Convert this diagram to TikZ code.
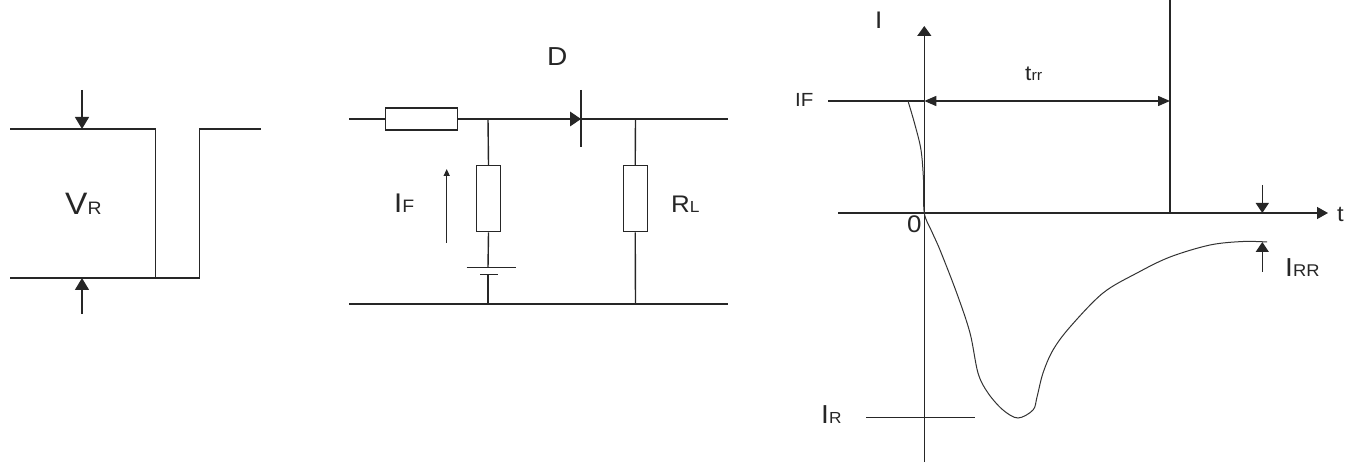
\documentclass[tikz,border=0pt]{standalone}
\usepackage{fontspec}
\setmainfont{Liberation Sans}[FakeStretch=1.08]
\usetikzlibrary{arrows.meta}
\newcommand{\fsz}[1]{\fontsize{#1bp}{#1bp}\selectfont}
\tikzset{
  wire/.style={line width=1.4bp, draw=black!85},
  res/.style={draw=black!85, line width=1.4bp, rectangle, inner sep=0pt, fill=white},
  bigarr/.style={wire, -{Triangle[length=12bp,width=14bp]}},
  midarr/.style={wire, -{Triangle[length=11bp,width=12bp]}},
  smallarr/.style={wire, -{Triangle[length=7bp,width=6bp]}},
  lbl/.style={inner sep=0pt, anchor=base west, text=black!85},
  curve/.style={line width=1bp, draw=black!80}
}
\begin{document}
\begin{tikzpicture}[x=1bp,y=-1bp]
\useasboundingbox (0,0) rectangle (1357,465);
% ---------------- left pulse ----------------
\coordinate (p1) at (10,129);
\coordinate (p2) at (155.5,129);
\coordinate (p3) at (155.5,278);
\coordinate (p4) at (10,278);
\coordinate (p5) at (199.5,278);
\coordinate (p6) at (199.5,129);
\coordinate (p7) at (261,129);
\draw[wire] (p1) -- (p2) -- (p3);
\draw[wire] (p4) -- (p5) -- (p6) -- (p7);
\coordinate (va) at (82,90);
\coordinate (vat) at (82,129);
\coordinate (vb) at (82,314);
\coordinate (vbt) at (82,278);
\draw[bigarr] (va) -- (vat);
\draw[bigarr] (vb) -- (vbt);
\node[lbl] (VR) at (65,215) {{\fsz{31}V}{\fsz{18}R}};
% ---------------- circuit ----------------
\coordinate (inL) at (349,119);
\coordinate (outR) at (728,119);
\coordinate (gL) at (349,304);
\coordinate (gR) at (728,304);
\coordinate (n1) at (488,119);
\coordinate (n2) at (635.5,119);
\coordinate (g1) at (488,304);
\coordinate (g2) at (635.5,304);
\node[res, minimum width=72bp, minimum height=22bp] (R1) at (421.7,119) {};
\node[res, minimum width=23.5bp, minimum height=66bp] (R2) at (488.5,198.7) {};
\node[res, minimum width=24bp, minimum height=66bp] (RL) at (635.2,198.7) {};
\coordinate (dA) at (570,119);
\coordinate (dK) at (581,119);
\draw[wire] (inL) -- (R1.west);
\draw[wire] (R1.east) -- (n1) -- (dA);
\draw[wire] (dK) -- (n2) -- (outR);
\fill[black!85] (570,111.5) -- (581,119) -- (570,126.5) -- cycle;
\coordinate (dbt) at (581,90);
\coordinate (dbb) at (581,147);
\draw[wire] (dbt) -- (dbb);
\draw[wire] (n1) -- (R2.north);
\draw[wire] (n2) -- (RL.north);
\draw[wire] (RL.south) -- (g2);
% battery
\coordinate (bL) at (466.7,267.7);
\coordinate (bR) at (515.7,267.7);
\coordinate (bsL) at (480,274.3);
\coordinate (bsR) at (497.7,274.3);
\coordinate (bt) at (488,267.7);
\coordinate (bb) at (488,274.3);
\draw[wire] (R2.south) -- (bt);
\draw[wire] (bL) -- (bR);
\draw[wire] (bsL) -- (bsR);
\draw[wire] (bb) -- (g1);
\draw[wire] (gL) -- (gR);
% IF arrow
\coordinate (ifa) at (446.7,243);
\coordinate (ifb) at (446.7,169);
\draw[smallarr] (ifa) -- (ifb);
\node[lbl] (IF1) at (394,213) {{\fsz{27}I}{\fsz{18}F}};
\node[lbl] (D) at (547,66) {\fsz{26}D};
\node[lbl] (RLt) at (671,213) {{\fsz{24}R}{\fsz{16}L}};
% ---------------- graph ----------------
\coordinate (yb) at (924.3,462);
\coordinate (yt) at (924.3,26);
\draw[midarr, -{Triangle[length=10bp,width=14bp]}] (yb) -- (yt);
\coordinate (xl) at (838,213);
\coordinate (xr) at (1328,213);
\draw[midarr] (xl) -- (xr);
\coordinate (ifl) at (828,101);
\coordinate (ifr) at (924.3,101);
\draw[wire] (ifl) -- (ifr);
\coordinate (trrR) at (1170,101);
\draw[wire, {Triangle[length=12bp,width=10bp]}-{Triangle[length=12bp,width=10bp]}] (ifr) -- (trrR);
\coordinate (vt) at (1170,0);
\coordinate (vb2) at (1170,213);
\draw[wire] (vt) -- (vb2);
% IRR arrows
\coordinate (ra) at (1262.3,185);
\coordinate (rat) at (1262.3,213);
\coordinate (rb) at (1262.3,272);
\coordinate (rbt) at (1262.3,242);
\draw[wire, -{Triangle[length=10bp,width=13bp]}] (ra) -- (rat);
\draw[wire, -{Triangle[length=10bp,width=13bp]}] (rb) -- (rbt);
% IR line
\coordinate (irl) at (866,417.3);
\coordinate (irr) at (975,417.3);
\draw[wire] (irl) -- (irr);
% curve
\draw[curve] plot[smooth, tension=0.55] coordinates {
 (908,101) (915,125) (921,150) (923.5,180) (924.3,213) (932,232) (940,250)
 (956.7,293) (970,333) (978,373) (988,393) (1003,410) (1018,418) (1033,410)
 (1037,397) (1043,373) (1053,350) (1070,327) (1103,293) (1137,273) (1170,257)
 (1210,245) (1243,241.5) (1267,242)};
% labels
\node[lbl] (Iax) at (875,29) {\fsz{24}I};
\node[lbl] (IFg) at (795,107) {\fsz{19}IF};
\node[lbl] (trr) at (1025,81) {{\fsz{21}t}{\fsz{15}rr}};
\node[lbl] (zero) at (907,233) {\fsz{24}0};
\node[lbl] (tax) at (1337,222) {\fsz{22}t};
\node[lbl] (IRR) at (1285,277) {{\fsz{26}I}{\fsz{17}RR}};
\node[lbl] (IR) at (821,423) {{\fsz{26}I}{\fsz{16}R}};
\end{tikzpicture}
\end{document}
